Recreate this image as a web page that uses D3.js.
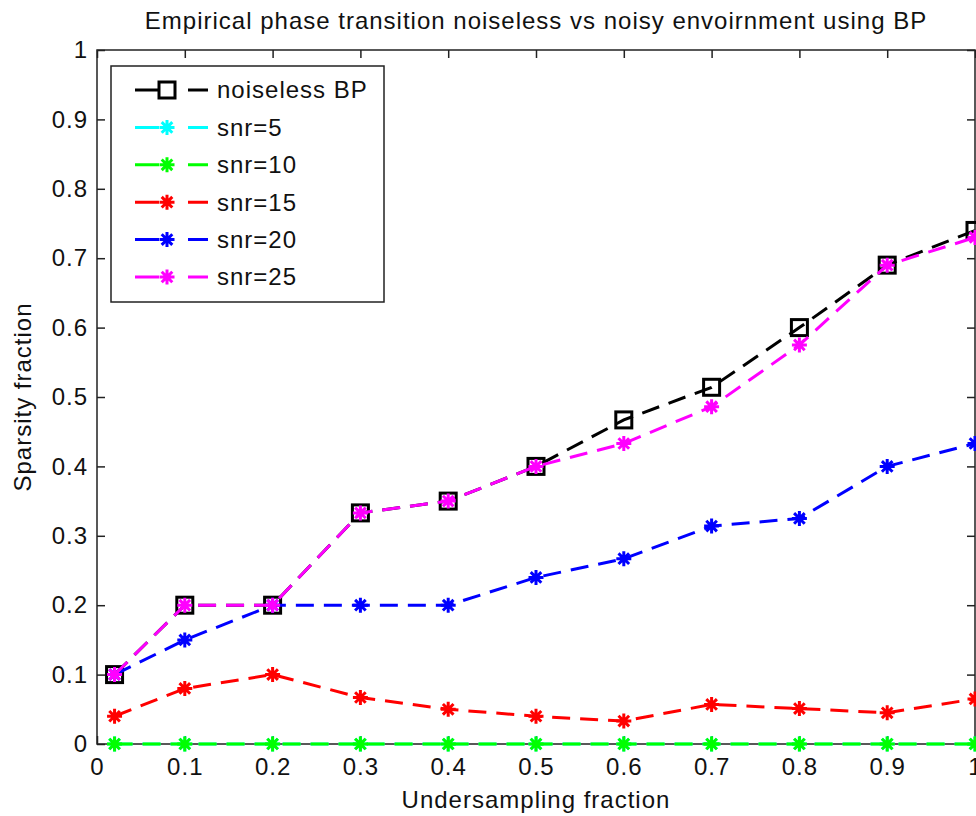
<!DOCTYPE html>
<html>
<head>
<meta charset="utf-8">
<title>Empirical phase transition</title>
<script src="https://d3js.org/d3.v7.min.js"></script>
<style>
    body { margin: 0; background: white; }
    svg { display: block; }
    text { font-family: "Liberation Sans", Arial, sans-serif; fill: #111; letter-spacing: 1px; }
</style>
</head>
<body>
<svg width="976" height="816"></svg>
<script>
    // data
    var xs = [0.02, 0.1, 0.2, 0.3, 0.4, 0.5, 0.6, 0.7, 0.8, 0.9, 1.0];
    var noiseless = [0.1, 0.2, 0.2, 0.333, 0.35, 0.4, 0.467, 0.514, 0.6, 0.69, 0.74];
    var snr5  = [0, 0, 0, 0, 0, 0, 0, 0, 0, 0, 0];
    var snr10 = [0, 0, 0, 0, 0, 0, 0, 0, 0, 0, 0];
    var snr15 = [0.04, 0.08, 0.1, 0.067, 0.05, 0.04, 0.033, 0.057, 0.051, 0.045, 0.065];
    var snr20 = [0.1, 0.15, 0.2, 0.2, 0.2, 0.24, 0.267, 0.314, 0.325, 0.4, 0.433];
    var snr25 = [0.1, 0.2, 0.2, 0.333, 0.35, 0.4, 0.433, 0.486, 0.575, 0.69, 0.73];

    var seriesNames = ["noiseless BP", "snr=5", "snr=10", "snr=15", "snr=20", "snr=25"];
    var seriesColors = ["#000000", "#00ffff", "#00ff00", "#ff0000", "#0000ff", "#ff00ff"];
    var seriesValues = [noiseless, snr5, snr10, snr15, snr20, snr25];

    var xTicks = [0, 0.1, 0.2, 0.3, 0.4, 0.5, 0.6, 0.7, 0.8, 0.9, 1];
    var xTickLabels = ["0", "0.1", "0.2", "0.3", "0.4", "0.5", "0.6", "0.7", "0.8", "0.9", "1"];
    var yTicks = [0, 0.1, 0.2, 0.3, 0.4, 0.5, 0.6, 0.7, 0.8, 0.9, 1];
    var yTickLabels = ["0", "0.1", "0.2", "0.3", "0.4", "0.5", "0.6", "0.7", "0.8", "0.9", "1"];

    var svg = d3.select("svg");
    var L = 97, R = 975, T = 50, B = 744;

    var x = d3.scaleLinear().domain([0, 1]).range([L, R]);
    var y = d3.scaleLinear().domain([0, 1]).range([B, T]);

    // axes (ticks point inwards, like matlab)
    function styleAxis(g) {
        g.select(".domain").remove();
        g.selectAll(".tick line").attr("stroke", "#222").attr("stroke-width", 1.5);
        g.selectAll(".tick text").style("font-size", "24px").attr("fill", "#111");
    }
    svg.append("g").attr("transform", "translate(0," + B + ")")
        .call(d3.axisBottom(x).tickValues(xTicks).tickSize(-8).tickPadding(14)
            .tickFormat(function (d, i) { return xTickLabels[i]; }))
        .call(styleAxis);
    svg.append("g").attr("transform", "translate(0," + T + ")")
        .call(d3.axisTop(x).tickValues(xTicks).tickSize(-8).tickFormat(""))
        .call(styleAxis);
    svg.append("g").attr("transform", "translate(" + L + ",0)")
        .call(d3.axisLeft(y).tickValues(yTicks).tickSize(-8).tickPadding(9)
            .tickFormat(function (d, i) { return yTickLabels[i]; }))
        .call(styleAxis);
    svg.append("g").attr("transform", "translate(" + R + ",0)")
        .call(d3.axisRight(y).tickValues(yTicks).tickSize(-8).tickFormat(""))
        .call(styleAxis);

    svg.append("rect")
        .attr("x", L).attr("y", T).attr("width", R - L).attr("height", B - T)
        .attr("fill", "none").attr("stroke", "#222").attr("stroke-width", 1.5);

    // markers
    function drawStar(g, cx, cy, color) {
        var s = 7.5, d = 5.3;
        g.append("path")
            .attr("d", "M" + (cx - s) + "," + cy + "H" + (cx + s) +
                "M" + cx + "," + (cy - s) + "V" + (cy + s) +
                "M" + (cx - d) + "," + (cy - d) + "L" + (cx + d) + "," + (cy + d) +
                "M" + (cx - d) + "," + (cy + d) + "L" + (cx + d) + "," + (cy - d))
            .attr("stroke", color).attr("stroke-width", 3).attr("fill", "none");
    }
    function drawSquare(g, cx, cy, color) {
        g.append("rect")
            .attr("x", cx - 8).attr("y", cy - 8).attr("width", 16).attr("height", 16)
            .attr("fill", "none").attr("stroke", color).attr("stroke-width", 3);
    }

    var line = d3.line()
        .x(function (d) { return x(d[0]); })
        .y(function (d) { return y(d[1]); });

    var plot = svg.append("g");
    seriesValues.forEach(function (vals, k) {
        var pts = xs.map(function (v, i) { return [v, vals[i]]; });
        var g = plot.append("g");
        g.append("path")
            .attr("d", line(pts))
            .attr("fill", "none")
            .attr("stroke", seriesColors[k])
            .attr("stroke-width", 3)
            .attr("stroke-dasharray", "18,10");
        pts.forEach(function (p) {
            if (k == 0) drawSquare(g, x(p[0]), y(p[1]), seriesColors[k]);
            else drawStar(g, x(p[0]), y(p[1]), seriesColors[k]);
        });
    });

    // legend
    var leg = svg.append("g");
    leg.append("rect")
        .attr("x", 111).attr("y", 66).attr("width", 273).attr("height", 236)
        .attr("fill", "white").attr("stroke", "#222").attr("stroke-width", 1.5);
    seriesNames.forEach(function (name, k) {
        var ry = 90 + k * 37.4;
        leg.append("path")
            .attr("d", "M135," + ry + "H159M188," + ry + "H208")
            .attr("stroke", seriesColors[k]).attr("stroke-width", 3).attr("fill", "none");
        if (k == 0) drawSquare(leg, 167, ry, seriesColors[k]);
        else drawStar(leg, 167, ry, seriesColors[k]);
        leg.append("text")
            .attr("x", 217).attr("y", ry).attr("dy", "0.35em")
            .style("font-size", "24px")
            .text(name);
    });

    // titles
    svg.append("text")
        .attr("x", (L + R) / 2).attr("y", 29)
        .attr("text-anchor", "middle")
        .style("font-size", "24px")
        .text("Empirical phase transition noiseless vs noisy envoirnment using BP");
    svg.append("text")
        .attr("x", (L + R) / 2).attr("y", 808)
        .attr("text-anchor", "middle")
        .style("font-size", "24px")
        .text("Undersampling fraction");
    svg.append("text")
        .attr("transform", "translate(31," + ((T + B) / 2) + ") rotate(-90)")
        .attr("text-anchor", "middle")
        .style("font-size", "24px")
        .text("Sparsity fraction");
</script>
</body>
</html>
